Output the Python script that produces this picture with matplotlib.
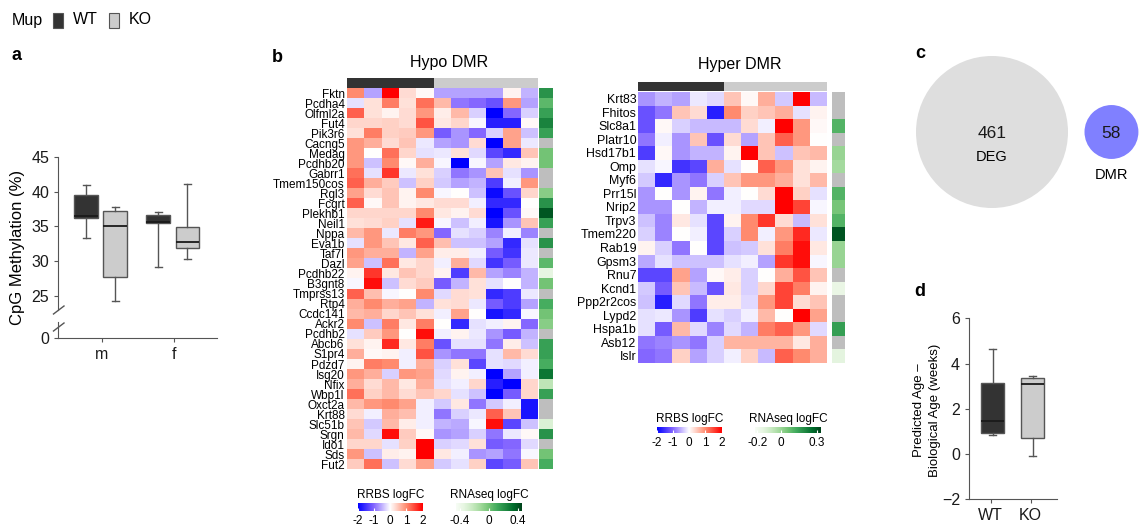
import numpy as np
import matplotlib
matplotlib.use('Agg')
import matplotlib.pyplot as plt
import matplotlib as mpl
from matplotlib.colors import LinearSegmentedColormap, ListedColormap, Normalize
from matplotlib.patches import Rectangle, Circle
from matplotlib.lines import Line2D

plt.rcParams['font.family'] = ['Liberation Sans', 'DejaVu Sans']

W, H = 1141, 529

# ---- data ----
groups = ['WT', 'KO']
group_colors = ['#333333', '#cccccc']
sample_groups = ['WT'] * 5 + ['KO'] * 6

# panel a: CpG methylation (whislo, q1, med, q3, whishi)
sexes = ['m', 'f']
a_wt = [[33.3, 36.2, 36.5, 39.5, 41.0], [29.1, 35.5, 35.7, 36.7, 37.0]]
a_ko = [[24.3, 27.8, 35.0, 37.2, 37.8], [30.3, 31.9, 32.7, 34.9, 41.1]]

# panel b: hypo DMR
hypo_genes = ['Fktn', 'Pcdha4', 'Olfml2a', 'Fut4', 'Pik3r6', 'Cacng5', 'Medag', 'Pcdhb20',
              'Gabrr1', 'Tmem150cos', 'Rgl3', 'Fcgrt', 'Plekhb1', 'Neil1', 'Nppa', 'Eva1b',
              'Taf7l', 'Dazl', 'Pcdhb22', 'B3gnt8', 'Tmprss13', 'Rtp4', 'Ccdc141', 'Ackr2',
              'Pcdhb2', 'Abcb6', 'S1pr4', 'Pdzd7', 'Isg20', 'Nfix', 'Wbp1l', 'Oxct2a',
              'Krt88', 'Slc51b', 'Srgn', 'Ido1', 'Sds', 'Fut2']
hypo_rrbs = [
    [1.0, -0.6, 2.0, 0.3, 0.05, -0.6, -0.6, -0.6, -0.6, 0.1, -0.5],
    [-0.2, 0.25, 1.1, 0.25, 1.2, 0.6, -0.9, -1.0, -1.2, 0.9, -0.6],
    [1.3, 0.25, 0.1, 0.3, 0.9, 0.15, 0.6, -0.3, -2.0, -1.0, -0.3],
    [0.35, 0.35, 0.4, 0.3, 1.4, 0.2, 0.35, -0.05, -1.7, -1.7, 0.05],
    [0.25, 1.1, 0.4, 0.45, 0.9, -1.1, -0.7, -1.0, -0.3, 0.8, -0.4],
    [0.9, 0.7, 0.3, 0.5, -0.15, -0.6, -0.7, 0.3, -2.0, 0.8, -0.15],
    [0.9, 0.0, 1.2, 0.35, -0.2, -0.15, 0.25, -0.25, -1.3, -1.6, 0.5],
    [0.9, -0.4, 1.0, 0.05, 0.7, -0.05, -2.0, -0.05, -0.6, 0.2, 0.1],
    [1.2, -0.2, 1.6, -0.15, 0.25, -0.3, -0.9, -0.7, 0.5, -0.2, -0.7],
    [1.3, 0.7, 0.45, -0.4, 0.4, -0.35, -0.6, -0.5, -1.4, -0.1, 0.9],
    [0.8, 0.3, 0.5, 0.1, 1.0, -0.05, 0.0, -0.4, -1.9, -1.2, 0.35],
    [1.3, 0.05, 0.5, 0.1, 0.2, 0.3, 0.3, -0.1, -1.6, -1.6, 0.0],
    [0.35, 0.35, 0.35, 0.35, 1.0, 0.2, 0.1, 0.3, -2.0, -1.2, 0.05],
    [0.25, 0.3, 0.4, -0.2, 1.8, -0.05, -0.4, -0.1, -1.8, -0.7, 0.5],
    [0.6, 0.9, -0.15, 1.1, 0.9, -1.0, -0.2, -0.3, -0.8, -0.1, -0.8],
    [-0.2, 0.9, 0.5, 0.2, 1.3, 0.55, -0.4, -0.4, -0.6, -1.6, -0.2],
    [0.9, 0.7, 0.7, -0.5, 0.8, 0.15, 0.15, -0.1, -1.1, -1.5, -0.15],
    [0.8, -0.4, 1.2, 0.2, 0.35, -0.1, 0.7, -0.25, -1.5, -1.1, -0.15],
    [0.1, 1.6, 0.2, 0.5, 0.35, 0.1, -1.4, 0.6, -0.6, -0.8, -0.5],
    [-0.05, 1.9, -0.4, 0.3, 0.45, -1.1, -0.5, 0.25, -0.2, 0.0, -0.5],
    [1.3, 0.55, -0.05, 0.0, 1.0, -0.25, 0.3, 0.25, -1.6, -1.4, -0.15],
    [0.7, 1.0, 0.7, 0.8, -0.5, 0.25, 0.3, -0.15, -1.1, -1.4, -0.6],
    [0.6, 0.7, 0.35, 0.5, 0.25, -0.1, 0.8, 0.0, -1.8, -1.6, -0.05],
    [1.0, -0.4, 1.1, 0.2, 1.1, 0.0, -1.6, -0.2, -0.1, 0.1, -1.0],
    [-0.2, 0.45, 0.9, 0.0, 1.9, -0.1, 0.1, -0.15, -0.7, -1.1, -0.5],
    [0.25, 0.1, 1.7, 0.2, 1.1, -1.2, -0.2, -0.2, -0.9, 0.15, -0.4],
    [0.7, 0.05, 0.1, -0.1, 1.4, -0.7, -0.9, -0.9, -0.2, 0.6, 0.3],
    [0.1, 1.1, 1.0, -0.1, 0.7, -0.3, 0.25, -1.3, -0.2, -0.25, -0.1],
    [0.9, 0.7, -0.3, 0.9, 0.8, -0.25, 0.1, -0.1, -2.0, -0.6, -0.1],
    [0.7, 0.3, 0.6, 0.2, 0.7, -0.2, -0.1, 0.35, -1.7, -2.0, 0.35],
    [1.2, 0.4, 0.6, 0.3, 0.5, 0.35, -0.2, -0.4, -2.0, -1.1, 0.35],
    [0.6, 0.9, 1.0, 0.8, -0.1, -0.35, 0.2, -0.9, -0.35, -0.1, -1.8],
    [0.3, -0.1, 0.7, 0.55, -0.1, -0.9, -0.3, -0.15, 1.3, 0.5, -1.8],
    [0.5, -0.35, 0.6, 0.15, -0.1, -0.5, -0.55, -0.05, 1.9, -1.3, -0.4],
    [0.6, -0.25, 1.9, 0.45, 0.05, -0.7, -0.6, -0.3, -0.9, -0.15, 0.05],
    [0.35, 0.35, -0.2, 0.4, 2.0, -0.3, -0.25, 0.25, -1.1, -1.0, -0.25],
    [0.9, -0.4, 0.15, 0.1, 2.0, 0.2, -0.1, -0.7, -0.6, -0.9, -0.05],
    [0.45, 1.2, -0.4, 0.3, 0.8, -0.35, -0.2, 0.4, -1.3, -1.1, 0.5],
]
hypo_rna = [0.2, 0.05, 0.15, 0.25, 0.15, None, 0.0, 0.0, None, None, -0.05, 0.2, 0.4,
            0.15, None, 0.2, None, 0.05, -0.35, 0.0, None, 0.1, 0.0, -0.05, None, 0.15,
            0.15, 0.1, 0.3, -0.2, 0.15, None, None, -0.3, 0.2, None, 0.0, 0.1]

# panel b: hyper DMR
hyper_genes = ['Krt83', 'Fhitos', 'Slc8a1', 'Platr10', 'Hsd17b1', 'Omp', 'Myf6', 'Prr15l',
               'Nrip2', 'Trpv3', 'Tmem220', 'Rab19', 'Gpsm3', 'Rnu7', 'Kcnd1', 'Ppp2r2cos',
               'Lypd2', 'Hspa1b', 'Asb12', 'Islr']
hyper_rrbs = [
    [-0.7, -0.5, -0.6, -0.15, -0.25, 0.5, 0.05, 0.7, -0.35, 2.0, -0.45],
    [-1.2, -0.9, 0.5, 0.3, -1.7, 1.0, 0.4, 0.5, 0.7, -0.2, 0.1],
    [-1.2, 0.05, -0.3, -0.45, -0.45, -0.45, 0.3, -0.1, 2.0, 0.9, 0.05],
    [-0.9, -0.1, -0.7, 0.5, -1.2, 0.3, -0.6, 0.5, 1.3, 0.9, 0.0],
    [-1.4, 0.05, -0.7, -0.5, -0.5, 0.1, 2.0, 0.5, -0.4, 0.5, 0.6],
    [-0.2, -0.05, -1.5, -1.3, 0.7, -0.2, 0.0, 1.3, 0.9, 0.25, 0.1],
    [-0.35, -1.6, -0.7, -0.9, -0.3, 0.5, 0.9, 0.9, 0.7, 0.25, 0.6],
    [-0.7, 0.0, -0.7, 0.1, -0.9, -0.1, 0.0, 0.3, 2.0, 0.4, -0.2],
    [-0.7, -0.7, 0.0, -0.5, -0.1, -0.1, -0.25, -0.25, 2.0, 1.5, -0.05],
    [-0.4, -0.8, 0.2, -0.2, -1.3, 0.1, 1.0, 1.6, 0.3, -0.45, 0.25],
    [-0.3, -0.8, 0.0, -0.1, -1.3, -0.3, 1.0, -0.1, 0.9, 1.7, -0.15],
    [0.1, -0.3, -0.9, 0.0, -1.3, -0.4, -0.35, 0.25, 1.1, 1.9, 0.2],
    [-0.55, -0.2, -0.4, -0.4, -0.4, -0.2, -0.1, -0.6, 1.6, 1.9, -0.05],
    [-1.3, -1.3, 0.8, -0.6, 0.05, 0.15, -0.3, 0.0, 0.7, 1.4, 0.5],
    [-0.35, -1.1, 0.5, -0.45, -1.2, 0.2, -0.3, 0.35, 1.5, 1.1, 0.1],
    [-0.4, -1.7, -0.25, -0.9, 0.15, 0.15, -0.25, 0.9, 1.5, 0.3, 0.5],
    [-0.2, -0.15, -0.7, -1.4, -0.2, -0.3, -0.1, 0.6, 0.0, 2.0, 0.8],
    [-0.2, -1.1, 0.6, -0.25, -0.8, -0.25, -0.5, 1.1, 1.3, 0.9, -0.25],
    [-0.9, -0.8, -0.7, -0.9, -0.3, 0.65, 0.65, 0.65, 0.65, 0.2, 0.7],
    [-1.0, -0.9, 0.4, -0.6, -0.3, -0.1, 0.4, -0.45, 1.3, 1.0, 0.7],
]
hyper_rna = [None, None, 0.1, None, 0.0, -0.02, None, 0.1, 0.05, 0.1, 0.3, 0.0, 0.0,
             None, -0.17, None, None, 0.15, None, -0.15]

# panel c: overlap counts
venn_names = ['DEG', 'DMR']
venn_counts = [461, 58]
venn_colors = ['#dedede', '#8080ff']

# panel d: predicted - biological age (whislo, q1, med, q3, whishi)
d_wt = [0.82, 0.92, 1.46, 3.13, 4.66]
d_ko = [-0.08, 0.70, 3.08, 3.35, 3.47]

# ---- helpers ----
fig = plt.figure(figsize=(W / 100, H / 100), dpi=100)


def ax_px(x0, y0, x1, y1):
    return fig.add_axes([x0 / W, 1 - y1 / H, (x1 - x0) / W, (y1 - y0) / H])


def fx(x):
    return x / W


def fy(y):
    return 1 - y / H


def stats(v, label=''):
    return dict(whislo=v[0], q1=v[1], med=v[2], q3=v[3], whishi=v[4], fliers=[], label=label)


def draw_boxes(ax, pos, vals, color, width):
    ax.bxp([stats(v) for v in vals], positions=pos, widths=width, patch_artist=True,
           showfliers=False, capwidths=width * 0.3,
           boxprops=dict(facecolor=color, edgecolor='#555555', linewidth=1),
           medianprops=dict(color='#1a1a1a', linewidth=1.3),
           whiskerprops=dict(color='#555555', linewidth=1),
           capprops=dict(color='#555555', linewidth=1))


def style_axis(ax):
    for s in ['top', 'right']:
        ax.spines[s].set_visible(False)
    for s in ['left', 'bottom']:
        ax.spines[s].set_color('#555555')
    ax.tick_params(colors='#555555', labelcolor='#1a1a1a', labelsize=11.5, length=3)


cmap_rb = LinearSegmentedColormap.from_list(
    'rb', [(0, '#0000ff'), (0.25, '#8466ff'), (0.5, '#ffffff'), (0.75, '#ff8c70'), (1, '#ff0000')])
norm_rb = Normalize(-2, 2)
cmap_g = plt.get_cmap('Greens').copy()
cmap_g.set_bad('#bebebe')
cmap_groups = ListedColormap(group_colors)

# ---- Mup legend ----
fig.text(fx(11.5), fy(20), 'Mup', fontsize=11.5, va='center', ha='left')
for g, c, xl in zip(groups, group_colors, [53.3, 109]):
    fig.add_artist(Rectangle((fx(xl), fy(28.3)), fx(10), 15.6 / H, facecolor=c,
                             edgecolor='#555555', linewidth=0.8, transform=fig.transFigure))
    fig.text(fx(xl + 20), fy(20), g, fontsize=11.5, va='center', ha='left')

# ---- panel labels ----
for lab, x, y in [('a', 16, 55), ('b', 277, 57), ('c', 920, 53), ('d', 920, 291)]:
    fig.text(fx(x), fy(y), lab, fontsize=13, fontweight='bold', ha='center', va='center')

# ---- panel a ----
pos_a = np.arange(1, len(sexes) + 1)
ax_a = ax_px(58.3, 156.7, 217, 310)
ax_a0 = ax_px(58.3, 322, 217, 338.3)
for ax in (ax_a, ax_a0):
    style_axis(ax)
    ax.set_xlim(0.4, 2.6)
draw_boxes(ax_a, pos_a - 0.215, a_wt, group_colors[0], 0.33)
draw_boxes(ax_a, pos_a + 0.19, a_ko, group_colors[1], 0.33)
ax_a.set_ylim(23.0, 45)
ax_a.set_yticks([25, 30, 35, 40, 45])
ax_a.spines['bottom'].set_visible(False)
ax_a.set_xticks([])
ax_a0.set_ylim(0, 2.5)
ax_a0.set_yticks([0])
ax_a0.set_xticks(pos_a)
ax_a0.set_xticklabels(sexes)
fig.text(fx(18), fy(247), 'CpG Methylation (%)', rotation=90, fontsize=12,
         ha='center', va='center')
for yb in (314, 331):
    fig.add_artist(Line2D([fx(53.5), fx(64)], [fy(yb), fy(yb - 8)], color='#555555', lw=1))

# ---- panel b heatmaps ----
def heatmap(box, bar_box, side_box, genes, rrbs, rna, rna_norm, fs, title, title_xy):
    ax = ax_px(*box)
    ax.imshow(np.array(rrbs), cmap=cmap_rb, norm=norm_rb, aspect='auto', interpolation='nearest')
    ax.set_yticks(np.arange(len(genes)))
    ax.set_yticklabels(genes, fontsize=fs)
    ax.set_xticks([])
    ax.tick_params(length=0, pad=1.5)
    for s in ax.spines.values():
        s.set_visible(False)

    axb = ax_px(*bar_box)
    codes = [[groups.index(g) for g in sample_groups]]
    axb.imshow(codes, cmap=cmap_groups, vmin=0, vmax=1, aspect='auto', interpolation='nearest')
    axb.axis('off')

    axs = ax_px(*side_box)
    col = np.array([np.nan if v is None else v for v in rna], dtype=float)[:, None]
    axs.imshow(np.ma.masked_invalid(col), cmap=cmap_g, norm=rna_norm, aspect='auto',
               interpolation='nearest')
    axs.axis('off')
    fig.text(fx(title_xy[0]), fy(title_xy[1]), title, fontsize=11.5, ha='center', va='center')


def legend_bar(box, cmap, norm, ticks, labels, title):
    cax = ax_px(*box)
    cb = fig.colorbar(mpl.cm.ScalarMappable(norm=norm, cmap=cmap), cax=cax,
                      orientation='horizontal', ticks=ticks)
    cb.set_ticklabels(labels)
    cb.outline.set_visible(False)
    cax.tick_params(labelsize=8.5, length=2, color='white', direction='in', pad=3)
    cax.set_title(title, fontsize=8.5, pad=4)


norm_hypo = Normalize(-0.45, 0.45)
norm_hyper = Normalize(-0.22, 0.33)

heatmap((346.7, 88.3, 536.7, 469.3), (346.7, 78.3, 536.7, 87.7), (539.3, 88.3, 552.7, 469.3),
        hypo_genes, hypo_rrbs, hypo_rna, norm_hypo, 8.5, 'Hypo DMR', (449, 63))
heatmap((638.3, 91.7, 827.3, 362.7), (638.3, 81.7, 827.3, 90.7), (831.7, 91.7, 844, 362.7),
        hyper_genes, hyper_rrbs, hyper_rna, norm_hyper, 8.9, 'Hyper DMR', (740, 64))

legend_bar((357.7, 503.3, 422.7, 510.7), cmap_rb, norm_rb, [-2, -1, 0, 1, 2],
           ['-2', '-1', '0', '1', '2'], 'RRBS logFC')
legend_bar((456, 503.3, 521.7, 510.7), cmap_g, norm_hypo, [-0.4, 0, 0.4],
           ['-0.4', '0', '0.4'], 'RNAseq logFC')
legend_bar((656.7, 427.3, 721.7, 433.3), cmap_rb, norm_rb, [-2, -1, 0, 1, 2],
           ['-2', '-1', '0', '1', '2'], 'RRBS logFC')
legend_bar((755, 427.3, 820.7, 433.3), cmap_g, norm_hyper, [-0.2, 0, 0.3],
           ['-0.2', '0', '0.3'], 'RNAseq logFC')

# ---- panel c: venn ----
ax_c = ax_px(900, 30, 1141, 230)
ax_c.set_xlim(900, 1141)
ax_c.set_ylim(230, 30)
ax_c.axis('off')
k = 76 / np.sqrt(venn_counts[0])
radii = [k * np.sqrt(n) for n in venn_counts]
cx0, cy = 992, 132
centers = [cx0, cx0 + radii[0] + radii[1] + 16.5]
for name, n, col, r, cxx in zip(venn_names, venn_counts, venn_colors, radii, centers):
    ax_c.add_patch(Circle((cxx, cy), r, facecolor=col, edgecolor='none'))
    ax_c.text(cxx, cy + 1.5, str(n), fontsize=12.5, ha='center', va='center', color='#1a1a1a')
ax_c.text(centers[0], cy + 25, venn_names[0], fontsize=10.5, ha='center', va='center')
ax_c.text(centers[1], cy + radii[1] + 16, venn_names[1], fontsize=10.5, ha='center', va='center')

# ---- panel d ----
ax_d = ax_px(969, 318.3, 1056.7, 499.3)
style_axis(ax_d)
pos_d = np.arange(1, len(groups) + 1)
for p, v, c in zip(pos_d, [d_wt, d_ko], group_colors):
    draw_boxes(ax_d, [p + 0.05], [v], c, 0.57)
ax_d.set_xlim(0.458, 2.65)
ax_d.set_ylim(-2, 6)
ax_d.set_yticks([-2, 0, 2, 4, 6])
ax_d.set_yticklabels(['\u22122', '0', '2', '4', '6'])
ax_d.set_xticks(pos_d)
ax_d.set_xticklabels(groups)
fig.text(fx(927), fy(410), 'Predicted Age \u2013\nBiological Age (weeks)', rotation=90,
         fontsize=9.5, ha='center', va='center', linespacing=1.35)

plt.savefig('out.png', dpi=100)
